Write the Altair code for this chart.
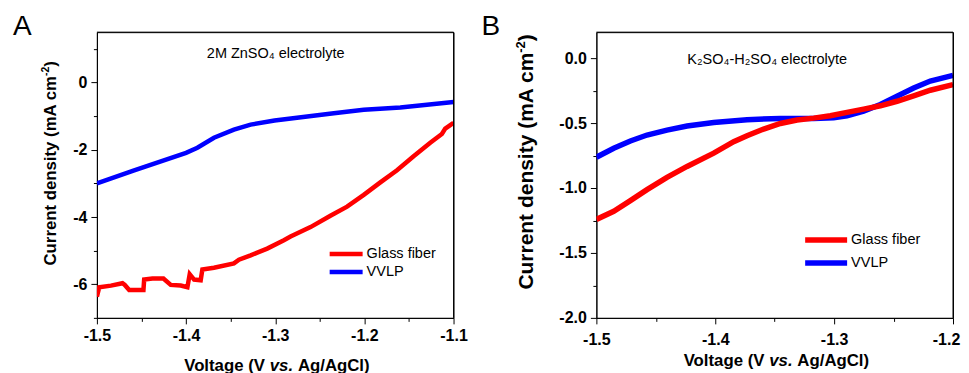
import altair as alt
import pandas as pd

FONT = "Liberation Sans"
RED = "#ff0000"
BLUE = "#0000ff"

# ---------------- Panel A : 2M ZnSO4 electrolyte ----------------
a_gf_v = [-1.5, -1.4974, -1.4843, -1.4713, -1.4687, -1.4638, -1.4478, -1.4470, -1.4377,
          -1.4254, -1.4172, -1.4060, -1.3985, -1.3959, -1.3910, -1.3836, -1.3817, -1.3687,
          -1.3463, -1.3407, -1.3276, -1.3090, -1.2903, -1.2828, -1.2604, -1.2381, -1.2194,
          -1.2007, -1.1821, -1.1634, -1.1448, -1.1261, -1.1131, -1.1093, -1.1]
a_gf_j = [-6.37, -6.09, -6.04, -5.97, -6.02, -6.17, -6.17, -5.86, -5.83,
          -5.83, -6.02, -6.04, -6.09, -5.70, -5.86, -5.88, -5.56, -5.51,
          -5.38, -5.27, -5.14, -4.94, -4.69, -4.58, -4.30, -3.96, -3.69,
          -3.34, -2.97, -2.61, -2.19, -1.79, -1.53, -1.37, -1.20]
a_vv_v = [-1.5, -1.4582, -1.4, -1.3873, -1.3687, -1.3463, -1.3276, -1.3007, -1.2343,
          -1.2007, -1.1597, -1.1]
a_vv_j = [-3.00, -2.61, -2.09, -1.94, -1.64, -1.40, -1.25, -1.13, -0.91,
          -0.81, -0.74, -0.58]
a_xticks = [-1.5, -1.45, -1.4, -1.35, -1.3, -1.25, -1.2, -1.15, -1.1]
a_yticks = [-7, -6, -5, -4, -3, -2, -1, 0, 1]

# ---------------- Panel B : K2SO4-H2SO4 electrolyte ----------------
b_gf_v = [-1.5, -1.4854, -1.4714, -1.4574, -1.4406, -1.4237, -1.4013, -1.3845, -1.3733,
          -1.3593, -1.3452, -1.3312, -1.3172, -1.3032, -1.2892, -1.2752, -1.2611, -1.2471,
          -1.2331, -1.2191, -1.2]
b_gf_j = [-1.242, -1.179, -1.097, -1.013, -0.918, -0.834, -0.732, -0.643, -0.597,
          -0.546, -0.503, -0.477, -0.462, -0.444, -0.418, -0.393, -0.367, -0.332,
          -0.291, -0.247, -0.204]
b_vv_v = [-1.5, -1.4854, -1.4714, -1.4574, -1.4406, -1.4237, -1.4013, -1.3733, -1.3452,
          -1.3172, -1.3004, -1.2892, -1.2752, -1.2611, -1.2471, -1.2331, -1.2191, -1.2]
b_vv_j = [-0.763, -0.694, -0.638, -0.592, -0.554, -0.523, -0.495, -0.474, -0.464,
          -0.464, -0.459, -0.444, -0.408, -0.357, -0.293, -0.230, -0.176, -0.133]
b_xticks = [-1.5, -1.45, -1.4, -1.35, -1.3, -1.25, -1.2]
b_yticks = [-2.0, -1.75, -1.5, -1.25, -1.0, -0.75, -0.5, -0.25, 0.0]

series_names = ["Glass fiber", "VVLP"]
MINUS = "\u2212"


def one_row():
    return pd.DataFrame({"k": [0]})


def txt(x, y, s, size, weight="normal", style="normal", align="left",
        baseline="alphabetic", angle=0):
    return alt.Chart(one_row()).mark_text(
        text=s, font=FONT, fontSize=size, fontWeight=weight, fontStyle=style,
        align=align, baseline=baseline, angle=angle, color="black"
    ).encode(x=alt.value(x), y=alt.value(y))


def rule(x, x2, y, y2, col="black", sw=1, op=1.0):
    return alt.Chart(one_row()).mark_rule(strokeWidth=sw, color=col, opacity=op).encode(
        x=alt.value(x), x2=alt.value(x2), y=alt.value(y), y2=alt.value(y2))


def panel(gf_v, gf_j, vv_v, vv_j, xdom, ydom, xticks, yticks, x_major, y_major,
          yfmt, w, h, lw, letter, letter_x, note, note_x, note_y,
          leg_x0, leg_x1, leg_y0, leg_dy, xlab_pad, xtitle_y,
          yt_size, yt_base, yt_end, sup_size, anchor=False, last_shift=0):
    gf = pd.DataFrame({"v": gf_v, "j": gf_j, "s": series_names[0]})
    vv = pd.DataFrame({"v": vv_v, "j": vv_j, "s": series_names[1]})

    x_axis_kw = dict(values=xticks, title=None, format=".1f", labelFlush=False,
                     labelOverlap=False,
                     labelExpr=f"({x_major}) ? replace(datum.label, '{MINUS}', '-') : ''",
                     tickSize={"condition": {"test": x_major, "value": 6}, "value": 3.5},
                     labelPadding=xlab_pad)
    if last_shift:
        x_axis_kw["labelOffset"] = {"condition": {"test": f"datum.value > {xdom[1] - 0.01}",
                                                  "value": last_shift}, "value": 0}
    x_enc = alt.X("v:Q", scale=alt.Scale(domain=xdom, nice=False, zero=False),
                  axis=alt.Axis(**x_axis_kw))
    y_enc = alt.Y("j:Q", scale=alt.Scale(domain=ydom, nice=False, zero=False),
                  axis=alt.Axis(values=yticks, title=None, format=yfmt, labelFlush=False,
                                labelOverlap=False,
                                labelExpr=f"({y_major}) ? replace(datum.label, '{MINUS}', '-') : ''",
                                tickSize={"condition": {"test": y_major, "value": 6}, "value": 3.5},
                                labelPadding=4))

    color = alt.Color("s:N", scale=alt.Scale(domain=series_names, range=[RED, BLUE]), legend=None)

    l_vv = alt.Chart(vv).mark_line(strokeWidth=lw, clip=True).encode(x=x_enc, y=y_enc, color=color)
    l_gf = alt.Chart(gf).mark_line(strokeWidth=lw, clip=True).encode(x=x_enc, y=y_enc, color=color)

    layers = [l_vv, l_gf]
    # frame (top and right edges)
    layers.append(rule(0, w, 0, 0))
    layers.append(rule(w, w, 0, h))
    # invisible layout anchor at the top-left corner
    if anchor:
        layers.append(rule(-88, -87, -23, -23, op=0))
    # legend
    for i, (name, col) in enumerate(zip(series_names, [RED, BLUE])):
        yy = leg_y0 + i * leg_dy
        layers.append(rule(leg_x0, leg_x1, yy, yy, col=col, sw=lw))
        layers.append(txt(leg_x1 + 4, yy, name, 14.5, baseline="middle"))
    # panel letter
    layers.append(txt(letter_x, 2.5, letter, 28))
    # annotation
    layers += note(note_x, note_y)
    # x title
    cx = 184.7
    layers.append(txt(cx - 16.5, xtitle_y, "Voltage (V", 16.8, weight="bold", align="right"))
    layers.append(txt(cx, xtitle_y, "vs.", 16.8, weight="bold", style="italic", align="center"))
    layers.append(txt(cx + 16.5, xtitle_y, "Ag/AgCl)", 16.8, weight="bold", align="left"))
    # y title (rotated), with superscript
    end_y = yt_end + 0.333 * yt_size + 0.889 * sup_size
    layers.append(txt(yt_base, end_y, "Current density (mA cm", yt_size, weight="bold",
                      align="right", angle=270))
    layers.append(txt(yt_base - 0.4 * yt_size, end_y, "-2", sup_size, weight="bold",
                      align="left", angle=270))
    layers.append(txt(yt_base, end_y - 0.889 * sup_size, ")", yt_size, weight="bold",
                      align="left", angle=270))

    return alt.layer(*layers).properties(width=w, height=h)


def note_a(x, y):
    return [txt(x, y, "2M ZnSO\u2084 electrolyte", 14.5, align="center")]


def note_b(x, y):
    return [txt(x, y, "K\u2082SO\u2084-H\u2082SO\u2084 electrolyte", 14.5, align="center")]


pA = panel(a_gf_v, a_gf_j, a_vv_v, a_vv_j, [-1.5, -1.1], [-7, 1.5], a_xticks, a_yticks,
           "abs(datum.value*10 - round(datum.value*10)) < 0.001",
           "abs(datum.value % 2) < 0.001", "d",
           357, 286, 4.5, "A", -84, note_a, 179, 26,
           233, 266, 222, 18, 4, 339,
           16.8, -41, 29, 10.5, anchor=True)

pB = panel(b_gf_v, b_gf_j, b_vv_v, b_vv_j, [-1.5, -1.2], [-2.0, 0.2], b_xticks, b_yticks,
           "abs(datum.value*10 - round(datum.value*10)) < 0.001",
           "abs(datum.value*2 - round(datum.value*2)) < 0.001", ".1f",
           357, 286, 5.5, "B", -115, note_b, 171, 32,
           209, 251, 208, 23, 8, 334,
           21, -63, 2, 13, last_shift=-7)

chart = alt.hconcat(pA, pB, spacing=143, bounds="flush").properties(
    padding={"left": 0, "top": 0, "right": 0, "bottom": 0}
).configure_view(
    stroke="black", strokeWidth=1
).configure_axis(
    domainColor="black", tickColor="black", tickWidth=1, domainWidth=1,
    labelFont=FONT, labelFontSize=16, labelFontWeight="bold", labelColor="black",
    grid=False
)

chart.save("out.html", embed_options={"renderer": "svg", "actions": False})
